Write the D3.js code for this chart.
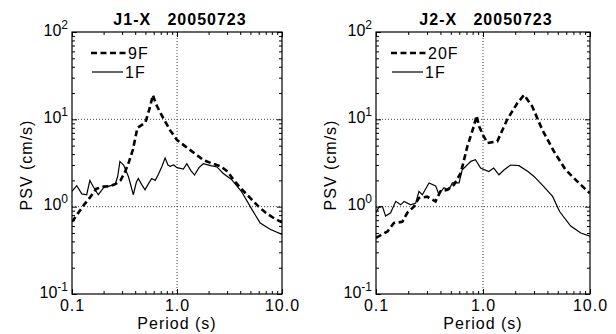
<!DOCTYPE html>
<html>
<head>
<meta charset="utf-8">
<script src="https://cdn.jsdelivr.net/npm/d3@7"></script>
<style>
  body { margin: 0; background: #fff; }
  text { font-family: "Liberation Sans", Arial, sans-serif; fill: #000; }
</style>
</head>
<body>
<svg id="chart" width="616" height="334"></svg>
<script>
// ---- datos ----
const titles = ["J1-X   20050723", "J2-X   20050723"];
const xTickLabels = ["0.1", "1.0", "10.0"];
const xTickValues = [0.1, 1, 10];
const yDecades = [0.1, 1, 10, 100];
const yExponents = ["-1", "0", "1", "2"];

// J1: 9F (línea discontinua) y 1F (continua)
const j1Period9F = [0.1,0.115,0.13,0.15,0.17,0.2,0.23,0.26,0.29,0.32,0.35,0.38,0.42,0.46,0.5,0.55,0.59,0.63,0.68,0.75,0.86,1.0,1.2,1.5,1.8,2.2,2.6,3.0,3.5,4.0,5.0,6.0,7.0,8.5,10];
const j1Psv9F    = [0.67,0.85,1.05,1.3,1.6,1.7,1.72,1.82,2.0,2.5,3.3,4.5,8.0,8.6,9.2,13.5,19,15,12.5,10,7.5,5.8,4.9,4.0,3.4,3.1,2.9,2.55,2.0,1.65,1.25,1.0,0.85,0.73,0.66];
const j1Period1F = [0.1,0.111,0.124,0.138,0.148,0.159,0.178,0.2,0.23,0.257,0.272,0.286,0.31,0.345,0.384,0.41,0.428,0.46,0.496,0.53,0.574,0.62,0.66,0.72,0.77,0.82,0.86,0.93,1.0,1.15,1.24,1.35,1.47,1.62,1.78,2.1,2.4,2.76,3.3,4.1,5.2,6.2,7.7,10];
const j1Psv1F    = [1.5,1.74,1.4,1.37,2.0,1.7,1.37,1.65,1.73,1.78,2.2,3.3,3.0,2.2,1.37,1.9,2.1,1.8,1.56,1.8,2.1,2.0,2.3,2.9,3.6,3.0,2.9,3.0,2.8,2.7,3.1,2.6,2.3,2.8,3.1,2.95,2.85,2.4,2.05,1.5,0.92,0.65,0.55,0.48];

// J2: 20F y 1F
const j2Period20F = [0.1,0.107,0.128,0.147,0.176,0.196,0.226,0.252,0.3,0.36,0.4,0.465,0.535,0.62,0.714,0.82,0.87,0.92,1.0,1.1,1.36,1.68,2.09,2.42,2.89,3.58,4.6,5.9,7.6,9.5,10];
const j2Psv20F    = [0.44,0.46,0.52,0.65,0.67,0.85,1.0,1.26,1.3,1.15,1.5,1.56,1.78,2.43,4.9,8.3,11,8.3,6.6,5.35,5.6,9.9,15.3,19,14,7.6,4.3,2.65,1.95,1.5,1.43];
const j2Period1F  = [0.1,0.107,0.115,0.123,0.137,0.153,0.17,0.183,0.211,0.235,0.252,0.271,0.313,0.361,0.388,0.43,0.48,0.517,0.597,0.64,0.77,0.85,0.95,1.13,1.26,1.41,1.58,1.81,2.17,2.63,3.0,3.7,4.47,5.2,6.6,8.2,10];
const j2Psv1F     = [0.85,1.0,1.0,0.78,0.85,1.15,1.05,1.15,1.05,1.1,1.5,1.37,1.87,1.73,1.37,1.65,1.56,1.87,1.87,2.65,3.3,3.45,2.77,2.53,2.77,2.32,2.65,3.0,2.95,2.53,2.22,1.7,1.31,0.88,0.6,0.5,0.46];

// ---- layout ----
const svg = d3.select("#chart");
const plotTop = 32, plotBottom = 294;
const fontSize = 16, spacing = "1px";

const panels = [
  { title: titles[0], x0: 72,  x1: 282, legendX: 91,
    series: [
      { name: "9F",  period: j1Period9F,  psv: j1Psv9F,  dashed: true },
      { name: "1F",  period: j1Period1F,  psv: j1Psv1F,  dashed: false }
    ] },
  { title: titles[1], x0: 376, x1: 590, legendX: 391,
    series: [
      { name: "20F", period: j2Period20F, psv: j2Psv20F, dashed: true },
      { name: "1F",  period: j2Period1F,  psv: j2Psv1F,  dashed: false }
    ] }
];

panels.forEach((p, pi) => drawPanel(p, pi));

function styleLine(sel, dashed) {
  sel.attr("fill", "none")
     .attr("stroke", "#000")
     .attr("stroke-width", dashed ? 2.6 : 1.2)
     .attr("stroke-dasharray", dashed ? "6,3.5" : null);
}

function drawPanel(p, pi) {
  const x = d3.scaleLog().domain([0.1, 10]).range([p.x0, p.x1]);
  const y = d3.scaleLog().domain([0.1, 100]).range([plotBottom, plotTop]);
  const g = svg.append("g");

  // clip
  const clipId = "clip" + pi;
  g.append("clipPath").attr("id", clipId)
    .append("rect")
    .attr("x", p.x0).attr("y", plotTop)
    .attr("width", p.x1 - p.x0).attr("height", plotBottom - plotTop);

  // rejilla punteada
  const grid = g.append("g")
    .attr("stroke", "#444").attr("stroke-width", 1).attr("stroke-dasharray", "1,2");
  grid.append("line")
    .attr("x1", x(1)).attr("x2", x(1)).attr("y1", plotTop).attr("y2", plotBottom);
  [1, 10].forEach(v => {
    grid.append("line")
      .attr("x1", p.x0).attr("x2", p.x1).attr("y1", y(v)).attr("y2", y(v));
  });

  // marcas hacia dentro en los cuatro lados
  const isMajor = v => Math.abs(Math.log10(v) - Math.round(Math.log10(v))) < 1e-6;
  const tickAxes = [
    { axis: d3.axisBottom(x).tickValues(x.ticks()), t: `translate(0,${plotBottom})` },
    { axis: d3.axisTop(x).tickValues(x.ticks()),    t: `translate(0,${plotTop})` },
    { axis: d3.axisLeft(y).tickValues(y.ticks()),   t: `translate(${p.x0},0)` },
    { axis: d3.axisRight(y).tickValues(y.ticks()),  t: `translate(${p.x1},0)` }
  ];
  tickAxes.forEach(a => {
    const ag = g.append("g").attr("transform", a.t)
      .call(a.axis.tickSize(-3).tickFormat(""));
    ag.select(".domain").remove();
    ag.selectAll(".tick line").attr("stroke", "#000").attr("stroke-width", 1);
    ag.selectAll(".tick").filter(d => isMajor(d)).select("line").each(function() {
      const l = d3.select(this);
      if (l.attr("x2") != null) l.attr("x2", +l.attr("x2") * 5 / 3);
      if (l.attr("y2") != null) l.attr("y2", +l.attr("y2") * 5 / 3);
    });
  });

  // etiquetas del eje x
  const xl = g.append("g").attr("transform", `translate(0,${plotBottom})`)
    .call(d3.axisBottom(x).tickValues(xTickValues).tickSize(0).tickPadding(5.5)
      .tickFormat((d, i) => xTickLabels[i]));
  xl.select(".domain").remove();
  xl.attr("font-size", null).attr("font-family", null);
  xl.selectAll("text").style("font-size", fontSize + "px").style("letter-spacing", spacing)
    .attr("fill", "#000");

  // etiquetas del eje y: 10^n
  yDecades.forEach((v, i) => {
    const t = g.append("text")
      .attr("x", p.x0 - 4).attr("y", y(v) + 3.5)
      .attr("text-anchor", "end")
      .style("font-size", fontSize + "px");
    t.append("tspan").text("10");
    t.append("tspan").attr("dy", -7).style("font-size", "12px").text(yExponents[i]);
  });

  // curvas
  const line = d3.line().x(d => x(d[0])).y(d => y(d[1]));
  const curves = g.append("g").attr("clip-path", `url(#${clipId})`);
  p.series.forEach(s => {
    curves.append("path")
      .datum(d3.zip(s.period, s.psv))
      .attr("d", line)
      .call(styleLine, s.dashed);
  });

  // marco
  g.append("rect")
    .attr("x", p.x0).attr("y", plotTop)
    .attr("width", p.x1 - p.x0).attr("height", plotBottom - plotTop)
    .attr("fill", "none").attr("stroke", "#000").attr("stroke-width", 1.2);

  // leyenda
  p.series.forEach((s, i) => {
    const ly = i === 0 ? 53 : 72;
    const lx0 = p.legendX + (s.dashed ? 0 : 1);
    const lx1 = p.legendX + (s.dashed ? 35 : 32);
    g.append("line")
      .attr("x1", lx0).attr("x2", lx1).attr("y1", ly).attr("y2", ly)
      .call(styleLine, s.dashed);
    g.append("text")
      .attr("x", lx1 + 2).attr("y", ly + 6)
      .style("font-size", fontSize + "px").style("letter-spacing", spacing)
      .text(s.name);
  });

  // título
  g.append("text")
    .attr("x", (p.x0 + p.x1) / 2 + 3).attr("y", 25)
    .attr("text-anchor", "middle")
    .style("font-size", "16px").style("font-weight", "bold")
    .style("letter-spacing", "1px").style("white-space", "pre")
    .text(p.title);

  // títulos de ejes
  g.append("text")
    .attr("x", (p.x0 + p.x1) / 2).attr("y", 329)
    .attr("text-anchor", "middle")
    .style("font-size", fontSize + "px").style("letter-spacing", spacing)
    .text("Period (s)");
  g.append("text")
    .attr("transform", `translate(${p.x0 - 40},165) rotate(-90)`)
    .attr("text-anchor", "middle")
    .style("font-size", fontSize + "px").style("letter-spacing", spacing)
    .text("PSV (cm/s)");
}
</script>
</body>
</html>
